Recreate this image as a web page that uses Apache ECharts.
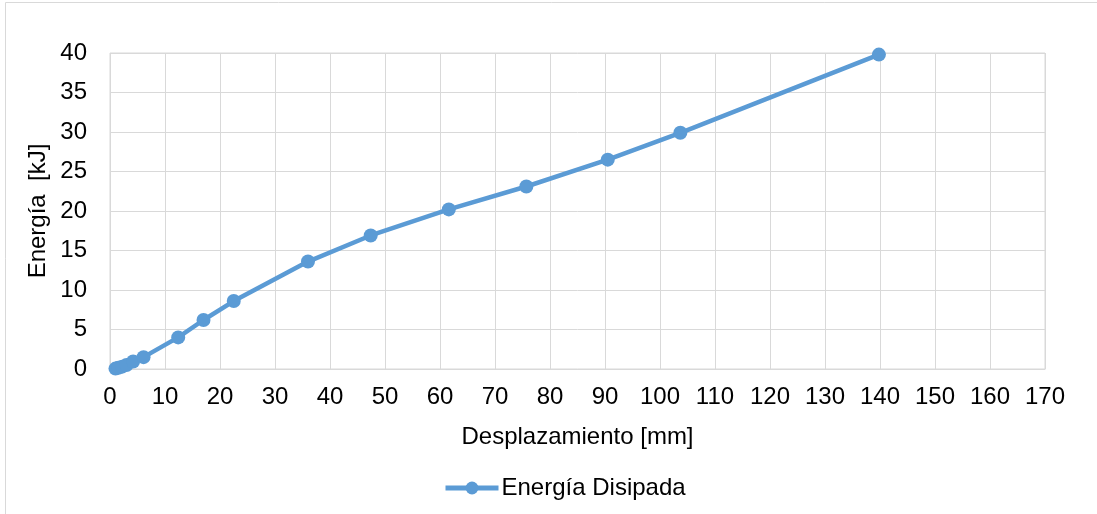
<!DOCTYPE html>
<html><head><meta charset="utf-8">
<script src="https://cdn.jsdelivr.net/npm/echarts@6/dist/echarts.min.js"></script>
<style>html,body{margin:0;padding:0;background:#fff}#c{width:1097px;height:514px}</style>
</head><body><div id="c"></div>
<script>
const seriesName = 'Energía Disipada';
const xTitle = 'Desplazamiento [mm]';
const yTitle = 'Energía  [kJ]';
const displacement = [1.0, 1.5, 2.2, 3.0, 4.2, 6.1, 12.4, 17.0, 22.5, 36.0, 47.4, 61.6, 75.7, 90.5, 103.7, 139.8];
const energy       = [0.05, 0.15, 0.3, 0.5, 0.95, 1.5, 4.0, 6.2, 8.6, 13.6, 16.9, 20.2, 23.1, 26.5, 29.9, 39.8];

const chart = echarts.init(document.getElementById('c'), null, {renderer:'canvas'});
const font = 'Liberation Sans, Arial, sans-serif';
chart.setOption({
  animation:false,
  graphic:[{type:'rect', shape:{x:5.5,y:2.5,width:1200,height:600}, style:{fill:null, stroke:'#d9d9d9', lineWidth:1}, z:-1}],
  grid:{left:110, right:52, top:53, bottom:145, show:true, borderColor:'#d9d9d9', borderWidth:1},
  legend:{bottom:9, left:438, itemWidth:53, itemHeight:16, itemGap:4,
    lineStyle:{width:5, color:'#5B9BD5'}, itemStyle:{color:'#5B9BD5'},
    textStyle:{fontFamily:font, fontSize:24, color:'#000', padding:[0,0,0,-2]}, data:[seriesName]},
  xAxis:{type:'value', min:0, max:170, interval:10,
    name:xTitle, nameLocation:'middle', nameGap:56, nameMoveOverlap:false, nameTextStyle:{fontFamily:font, fontSize:24, color:'#000'},
    axisLine:{show:true, lineStyle:{color:'#d9d9d9'}}, axisTick:{show:false},
    axisLabel:{fontFamily:font, fontSize:24, color:'#000', margin:16},
    splitLine:{show:true, lineStyle:{color:'#d9d9d9', width:1}}},
  yAxis:{type:'value', min:0, max:40, interval:5,
    name:yTitle, nameLocation:'middle', nameGap:60, nameMoveOverlap:false, nameRotate:90, nameTextStyle:{fontFamily:font, fontSize:24, color:'#000'},
    axisLine:{show:false}, axisTick:{show:false},
    axisLabel:{fontFamily:font, fontSize:24, color:'#000', margin:23},
    splitLine:{show:true, lineStyle:{color:'#d9d9d9', width:1}}},
  series:[{name:seriesName, type:'line', data:displacement.map((x,i)=>[x, energy[i]]),
    symbol:'circle', symbolSize:14, lineStyle:{color:'#5B9BD5', width:4.5}, itemStyle:{color:'#5B9BD5'}, smooth:false}]
});
</script></body></html>
